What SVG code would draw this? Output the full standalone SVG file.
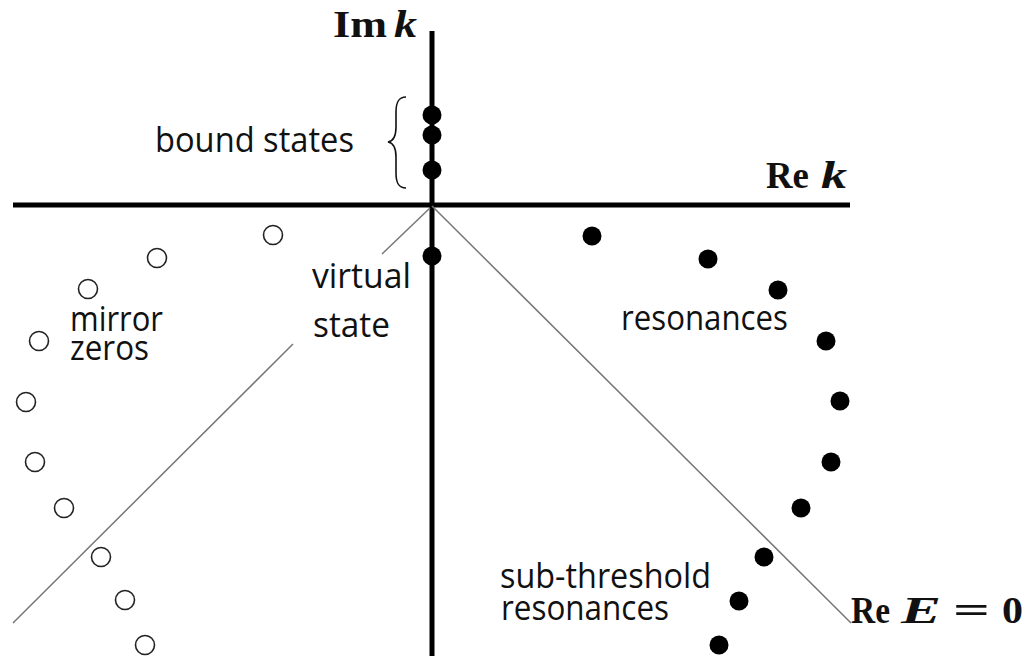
<svg xmlns="http://www.w3.org/2000/svg" width="1029" height="656" viewBox="0 0 1029 656">
<style>
.sans{font-family:"Open Sans","Liberation Sans",sans-serif;font-size:34px;fill:#111}
.math{font-family:"Liberation Serif","DejaVu Serif",serif;font-weight:bold;font-size:37px;fill:#111}
.it{font-style:italic}
.axis{stroke:#000;stroke-width:5;fill:none}
.thin{stroke:#777;stroke-width:1.5;fill:none}
.pole{fill:#000}
.zero{fill:#fff;stroke:#222;stroke-width:1.6}
</style>
<rect width="1029" height="656" fill="#fff"/>
<g id="connectors">
  <line class="axis" x1="432" y1="31" x2="432" y2="656"/>
  <line class="axis" x1="13" y1="205" x2="850" y2="205"/>
  <line class="thin" x1="432" y1="206" x2="851" y2="623"/>
  <line class="thin" x1="430" y1="208" x2="382" y2="254"/>
  <line class="thin" x1="293" y1="344" x2="13" y2="623"/>
  <path id="brace" d="M406,97 C398,97 396,103 396,112 L396,127 C396,136 394,141 388,142 C394,143 396,148 396,157 L396,173 C396,182 398,188 406,188" fill="none" stroke="#111" stroke-width="1.6"/>
</g>
<g id="axis-labels">
  <text class="math" x="333" y="37" textLength="54" lengthAdjust="spacingAndGlyphs">Im</text>
  <text class="math it" x="394" y="37" textLength="23" lengthAdjust="spacingAndGlyphs">k</text>
  <text class="math" x="766" y="188" textLength="43" lengthAdjust="spacingAndGlyphs">Re</text>
  <text class="math it" x="821" y="188" textLength="26" lengthAdjust="spacingAndGlyphs">k</text>
</g>
<g id="re-e-label">
  <text class="math" x="851" y="623" font-size="41" textLength="39" lengthAdjust="spacingAndGlyphs">Re</text>
  <text class="math it" x="901" y="623" font-size="41" textLength="40" lengthAdjust="spacingAndGlyphs">E</text>
  <text class="math" x="953" y="623" font-size="41" textLength="37" lengthAdjust="spacingAndGlyphs">=</text>
  <text class="math" x="1002" y="623" font-size="41" textLength="21" lengthAdjust="spacingAndGlyphs">0</text>
</g>
<g id="bound-states">
  <circle class="pole" cx="432" cy="115" r="9.5"/>
  <circle class="pole" cx="432" cy="135" r="9.5"/>
  <circle class="pole" cx="432" cy="170" r="9.5"/>
  <text class="sans" x="155" y="152" textLength="199" lengthAdjust="spacingAndGlyphs">bound states</text>
</g>
<g id="virtual-state">
  <circle class="pole" cx="432" cy="256" r="9.5"/>
  <text class="sans" x="312" y="288" textLength="99" lengthAdjust="spacingAndGlyphs">virtual</text>
  <text class="sans" x="313" y="337" textLength="77" lengthAdjust="spacingAndGlyphs">state</text>
</g>
<g id="resonances">
  <circle class="pole" cx="592" cy="236" r="9.5"/>
  <circle class="pole" cx="708" cy="259" r="9.5"/>
  <circle class="pole" cx="778" cy="290" r="9.5"/>
  <circle class="pole" cx="826" cy="341" r="9.5"/>
  <circle class="pole" cx="840" cy="401" r="9.5"/>
  <circle class="pole" cx="831" cy="462" r="9.5"/>
  <circle class="pole" cx="801" cy="508" r="9.5"/>
  <text class="sans" x="621" y="330" textLength="167" lengthAdjust="spacingAndGlyphs">resonances</text>
</g>
<g id="sub-threshold">
  <circle class="pole" cx="764" cy="557" r="9.5"/>
  <circle class="pole" cx="739" cy="601" r="9.5"/>
  <circle class="pole" cx="719" cy="645" r="9.5"/>
  <text class="sans" x="500" y="588" textLength="211" lengthAdjust="spacingAndGlyphs">sub-threshold</text>
  <text class="sans" x="501" y="620" textLength="168" lengthAdjust="spacingAndGlyphs">resonances</text>
</g>
<g id="mirror-zeros">
  <circle class="zero" cx="273" cy="235" r="9.5"/>
  <circle class="zero" cx="157" cy="258" r="9.5"/>
  <circle class="zero" cx="88" cy="289" r="9.5"/>
  <circle class="zero" cx="39" cy="341" r="9.5"/>
  <circle class="zero" cx="26" cy="402" r="9.5"/>
  <circle class="zero" cx="35" cy="462" r="9.5"/>
  <circle class="zero" cx="64" cy="508" r="9.5"/>
  <circle class="zero" cx="101" cy="557" r="9.5"/>
  <circle class="zero" cx="125" cy="600" r="9.5"/>
  <circle class="zero" cx="145" cy="645" r="9.5"/>
  <text class="sans" x="70" y="331" textLength="93" lengthAdjust="spacingAndGlyphs">mirror</text>
  <text class="sans" x="70" y="360" textLength="79" lengthAdjust="spacingAndGlyphs">zeros</text>
</g>
</svg>
